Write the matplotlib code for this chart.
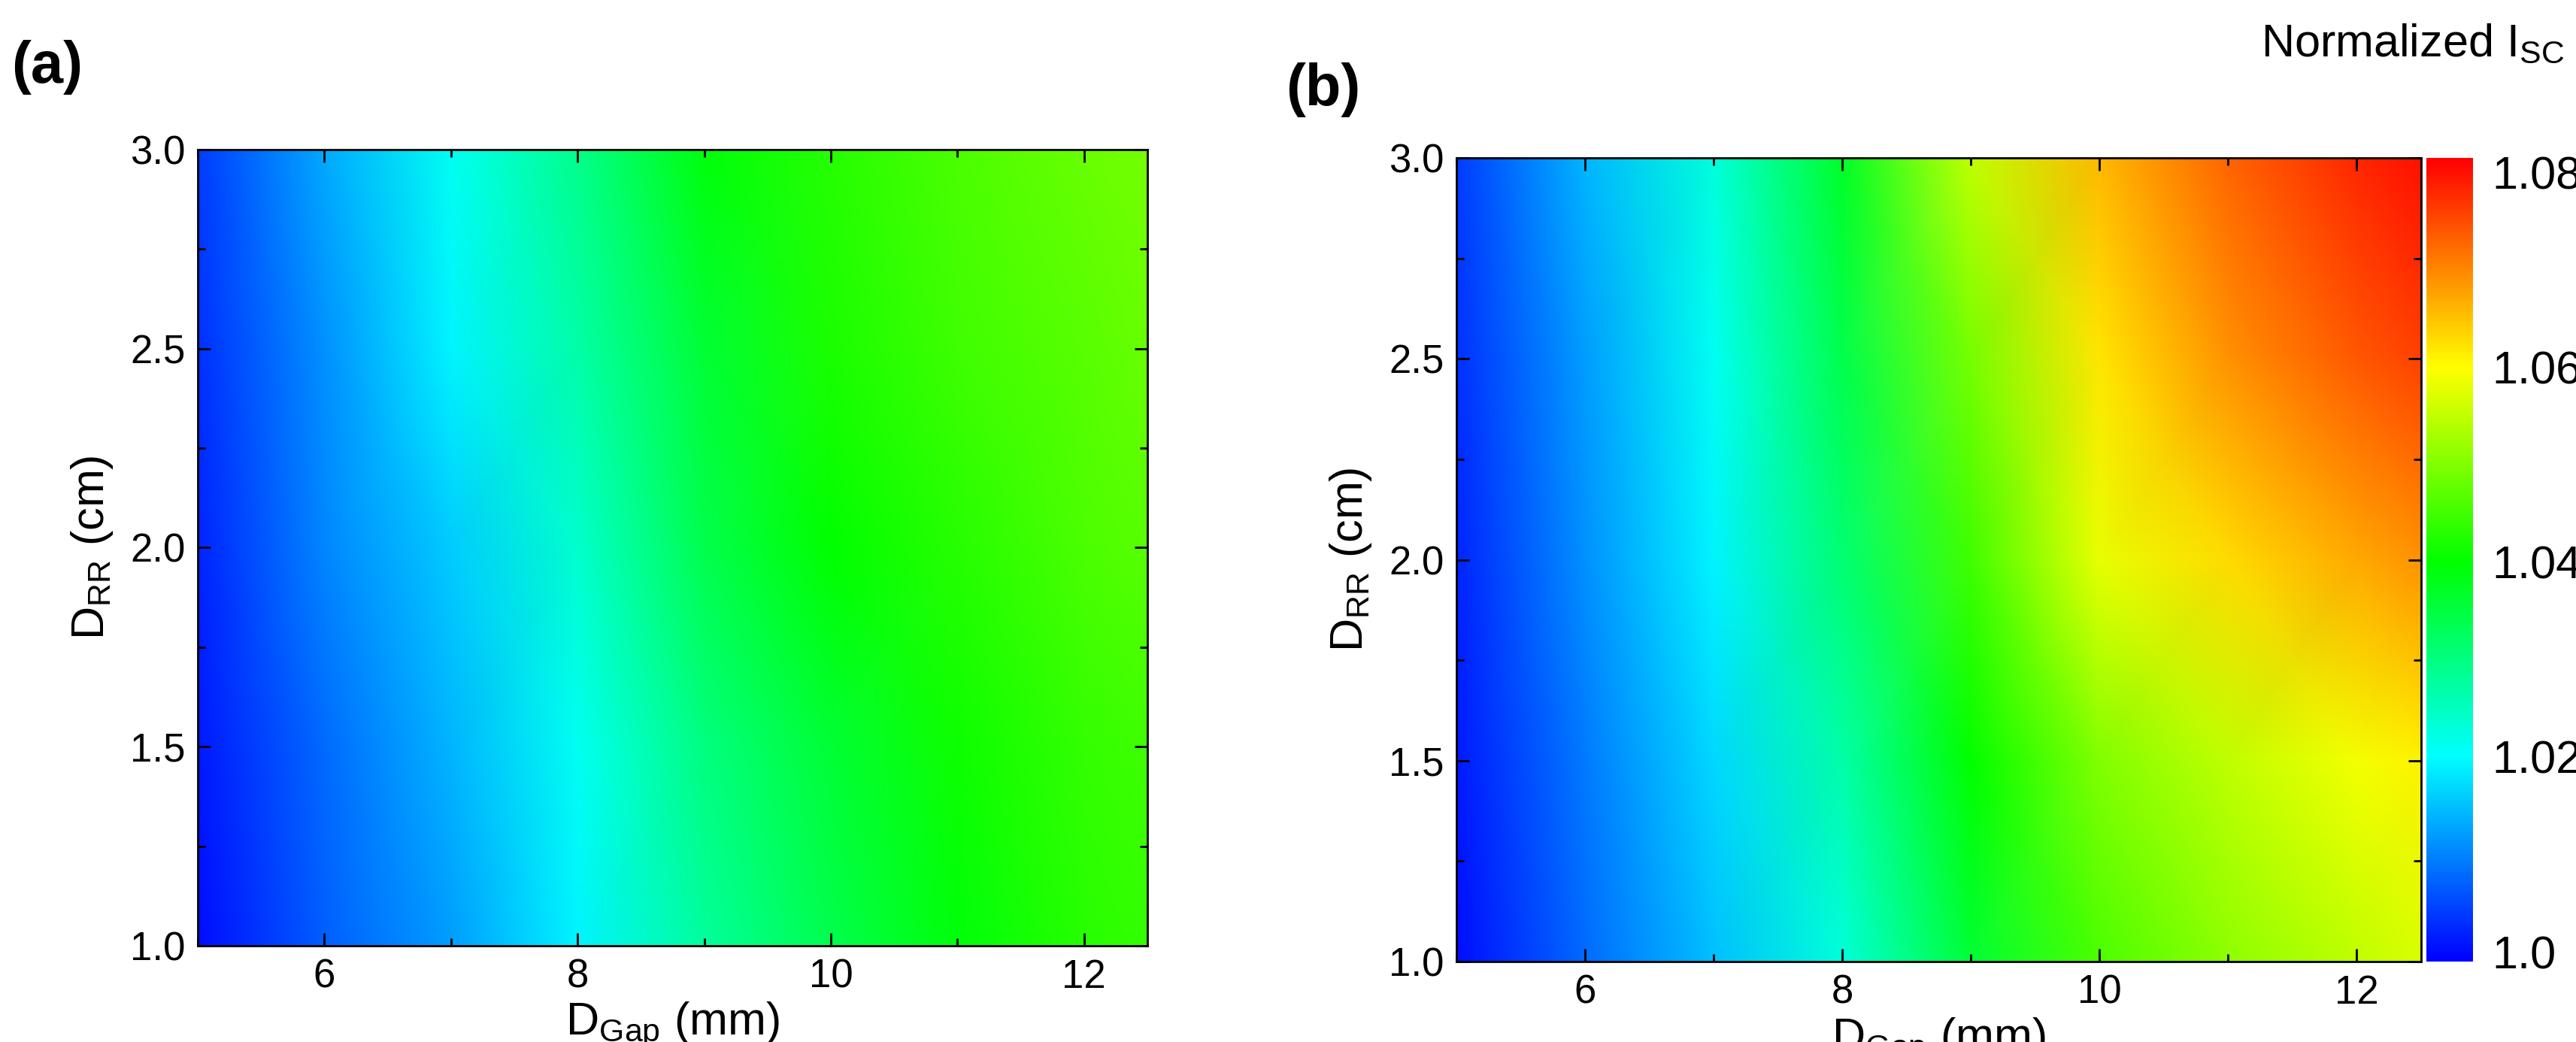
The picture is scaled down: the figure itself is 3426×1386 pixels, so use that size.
import numpy as np
import matplotlib
matplotlib.use("Agg")
import matplotlib.pyplot as plt
from matplotlib.colors import LinearSegmentedColormap
from matplotlib.ticker import MultipleLocator

plt.rcParams['font.family'] = ['Liberation Sans', 'DejaVu Sans']

d_gap = [5, 6, 7, 8, 9, 10, 11, 12, 12.5]
d_rr = [1.0, 1.5, 2.0, 2.5, 3.0]

isc_a = [
    [1.000, 1.007, 1.012, 1.019, 1.028, 1.034, 1.039, 1.043, 1.044],
    [1.001, 1.008, 1.014, 1.021, 1.030, 1.036, 1.041, 1.044, 1.045],
    [1.002, 1.010, 1.016, 1.024, 1.034, 1.040, 1.043, 1.046, 1.047],
    [1.003, 1.011, 1.019, 1.027, 1.036, 1.042, 1.045, 1.047, 1.048],
    [1.004, 1.013, 1.021, 1.029, 1.039, 1.043, 1.046, 1.048, 1.049],
]
isc_b = [
    [1.000, 1.008, 1.015, 1.023, 1.036, 1.046, 1.051, 1.055, 1.057],
    [1.001, 1.009, 1.017, 1.027, 1.040, 1.050, 1.055, 1.059, 1.061],
    [1.002, 1.011, 1.019, 1.031, 1.045, 1.058, 1.063, 1.067, 1.069],
    [1.003, 1.012, 1.021, 1.034, 1.049, 1.062, 1.069, 1.074, 1.076],
    [1.004, 1.014, 1.023, 1.037, 1.055, 1.066, 1.073, 1.078, 1.080],
]
cbar_ticks = [1.0, 1.02, 1.04, 1.06, 1.08]
cbar_labels = ['1.0', '1.02', '1.04', '1.06', '1.08']

vmin, vmax = 0.999, 1.0815
cmap = LinearSegmentedColormap.from_list('rainbow5', [
    (0.0, (0, 0, 1)), ((1.02 - vmin) / (vmax - vmin), (0, 1, 1)),
    ((1.04 - vmin) / (vmax - vmin), (0, 1, 0)), ((1.06 - vmin) / (vmax - vmin), (1, 1, 0)),
    (1.0, (1, 0, 0))])

fig = plt.figure(figsize=(34.26, 13.86), dpi=100)
W, H = 3426, 1386
axa = fig.add_axes([263 / W, 1 - 1258 / H, (1526 - 263) / W, (1258 - 199) / H])
axb = fig.add_axes([1937 / W, 1 - 1279 / H, (3220 - 1937) / W, (1279 - 210) / H])
cax = fig.add_axes([3227 / W, 1 - 1279 / H, (3289 - 3227) / W, (1279 - 210) / H])

X, Y = np.meshgrid(d_gap, d_rr)
for ax, data in ((axa, isc_a), (axb, isc_b)):
    m = ax.pcolormesh(X, Y, np.array(data), shading='gouraud', cmap=cmap, vmin=vmin, vmax=vmax)
    ax.set_xlim(5, 12.5)
    ax.set_ylim(1, 3)
    ax.xaxis.set_major_locator(MultipleLocator(2))
    ax.xaxis.set_minor_locator(MultipleLocator(1))
    ax.yaxis.set_major_locator(MultipleLocator(0.5))
    ax.yaxis.set_minor_locator(MultipleLocator(0.25))
    ax.set_xticks([6, 8, 10, 12])
    ax.yaxis.set_major_formatter(matplotlib.ticker.FormatStrFormatter('%.1f'))
    ax.tick_params(which='both', direction='in', top=True, right=True, labelsize=38, width=2, pad=12)
    ax.tick_params(which='major', length=12)
    ax.tick_params(which='minor', length=7)
    for s in ax.spines.values():
        s.set_linewidth(2)
    ax.set_xlabel(r'D$_{\mathregular{Gap}}$ (mm)', fontsize=44, labelpad=4)
    ax.set_ylabel(r'D$_{\mathregular{RR}}$ (cm)', fontsize=44, labelpad=14)

fig.text(15 / W, 1 - 90 / H, '(a)', fontsize=56, fontweight='bold', va='center')
fig.text(1710 / W, 1 - 120 / H, '(b)', fontsize=56, fontweight='bold', va='center')

cb = fig.colorbar(m, cax=cax, ticks=cbar_ticks)
cb.ax.set_yticklabels(cbar_labels)
cb.ax.tick_params(length=0, labelsize=44, pad=18)
cb.outline.set_visible(False)
fig.text(3410 / W, 1 - 60 / H, r'Normalized I$_{\mathregular{SC}}$', fontsize=44, ha='right', va='center')

fig.savefig('out.png', dpi=100)
